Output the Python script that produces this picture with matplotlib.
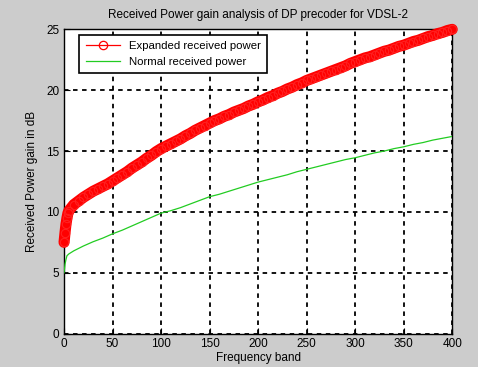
import matplotlib
matplotlib.use("Agg")
import matplotlib.pyplot as plt
from matplotlib.lines import Line2D

plt.rcParams['font.family'] = ['Liberation Sans', 'DejaVu Sans']

red_x = [0, 1, 2, 3, 4, 5, 10, 15, 20, 25, 30, 35, 40, 45, 50, 55, 60, 65, 70, 75,
         80, 85, 90, 95, 100, 105, 110, 115, 120, 125, 130, 135, 140, 145, 150,
         155, 160, 165, 170, 175, 180, 185, 190, 195, 200, 205, 210, 215, 220,
         225, 230, 235, 240, 245, 250, 255, 260, 265, 270, 275, 280, 285, 290,
         295, 300, 305, 310, 315, 320, 325, 330, 335, 340, 345, 350, 355, 360,
         365, 370, 375, 380, 385, 390, 395, 400]
red_y = [7.5, 8.3, 9.0, 9.5, 9.9, 10.1, 10.6, 10.9, 11.2, 11.45, 11.7, 11.9, 12.1,
         12.3, 12.55, 12.8, 13.05, 13.3, 13.6, 13.85, 14.1, 14.4, 14.65, 14.95,
         15.2, 15.4, 15.6, 15.8, 16.0, 16.25, 16.45, 16.7, 16.9, 17.1, 17.3, 17.5,
         17.65, 17.85, 18.0, 18.2, 18.35, 18.5, 18.7, 18.85, 19.05, 19.2, 19.4,
         19.55, 19.75, 19.9, 20.1, 20.25, 20.45, 20.6, 20.8, 20.95, 21.1, 21.25,
         21.4, 21.55, 21.7, 21.85, 22.0, 22.2, 22.35, 22.5, 22.65, 22.75, 22.9,
         23.05, 23.2, 23.3, 23.45, 23.6, 23.7, 23.85, 24.0, 24.1, 24.25, 24.4,
         24.5, 24.65, 24.75, 24.9, 25.0]

green_x = [0, 1, 2, 3, 5, 10, 20, 30, 40, 50, 60, 70, 80, 90, 100, 110, 120, 130,
           140, 150, 160, 170, 180, 190, 200, 210, 220, 230, 240, 250, 260, 270,
           280, 290, 300, 310, 320, 330, 340, 350, 360, 370, 380, 390, 400]
green_y = [5.0, 5.7, 6.1, 6.4, 6.55, 6.8, 7.2, 7.55, 7.85, 8.2, 8.5, 8.85, 9.2,
           9.55, 9.9, 10.1, 10.35, 10.65, 10.95, 11.25, 11.45, 11.7, 11.95, 12.2,
           12.45, 12.65, 12.85, 13.05, 13.3, 13.5, 13.7, 13.9, 14.1, 14.3, 14.45,
           14.65, 14.85, 15.0, 15.2, 15.35, 15.55, 15.7, 15.9, 16.05, 16.2]

x_ticks = [0, 50, 100, 150, 200, 250, 300, 350, 400]
y_ticks = [0, 5, 10, 15, 20, 25]
labels = ['Expanded received power', 'Normal received power']

fig = plt.figure(figsize=(4.78, 3.67), dpi=100, facecolor='#cccccc')
ax = fig.add_axes([0.134, 0.091, 0.812, 0.829])
ax.set_facecolor('white')

ax.plot(red_x, red_y, color='red', lw=8, solid_capstyle='round', clip_on=False, zorder=3)
ax.plot(red_x, red_y, color='none', lw=0, marker='o', markersize=6,
        markerfacecolor='none', markeredgecolor='#ff2020', markeredgewidth=0.8,
        clip_on=False, zorder=3)
ax.plot(green_x, green_y, color='#22cc22', lw=0.9, zorder=3)

ax.set_xlim(0, 400)
ax.set_ylim(0, 25)
ax.set_xticks(x_ticks)
ax.set_yticks(y_ticks)
ax.grid(True, color='black', linestyle=(0, (2.5, 2.5)), linewidth=1.3)
ax.tick_params(direction='in', labelsize=8.5, length=4, width=0.8)
for s in ax.spines.values():
    s.set_linewidth(1.0)

ax.set_title('Received Power gain analysis of DP precoder for VDSL-2', fontsize=8.5, pad=8)
ax.set_xlabel('Frequency band', fontsize=8.5, labelpad=1)
ax.set_ylabel('Received Power gain in dB', fontsize=8.5, labelpad=6)

handles = [Line2D([], [], color='red', lw=0.9, marker='o', markersize=6,
                  markerfacecolor='none', markeredgewidth=0.9),
           Line2D([], [], color='#22cc22', lw=0.9)]
leg = ax.legend(handles, labels, loc='upper left', bbox_to_anchor=(0.025, 1.0),
                fontsize=8.2, fancybox=False, framealpha=1, edgecolor='black',
                borderpad=0.55, handlelength=3.0, labelspacing=0.5, markerscale=1)
leg.get_frame().set_linewidth(1.2)
leg.set_zorder(5)

fig.savefig('out.png', dpi=100, facecolor=fig.get_facecolor())
